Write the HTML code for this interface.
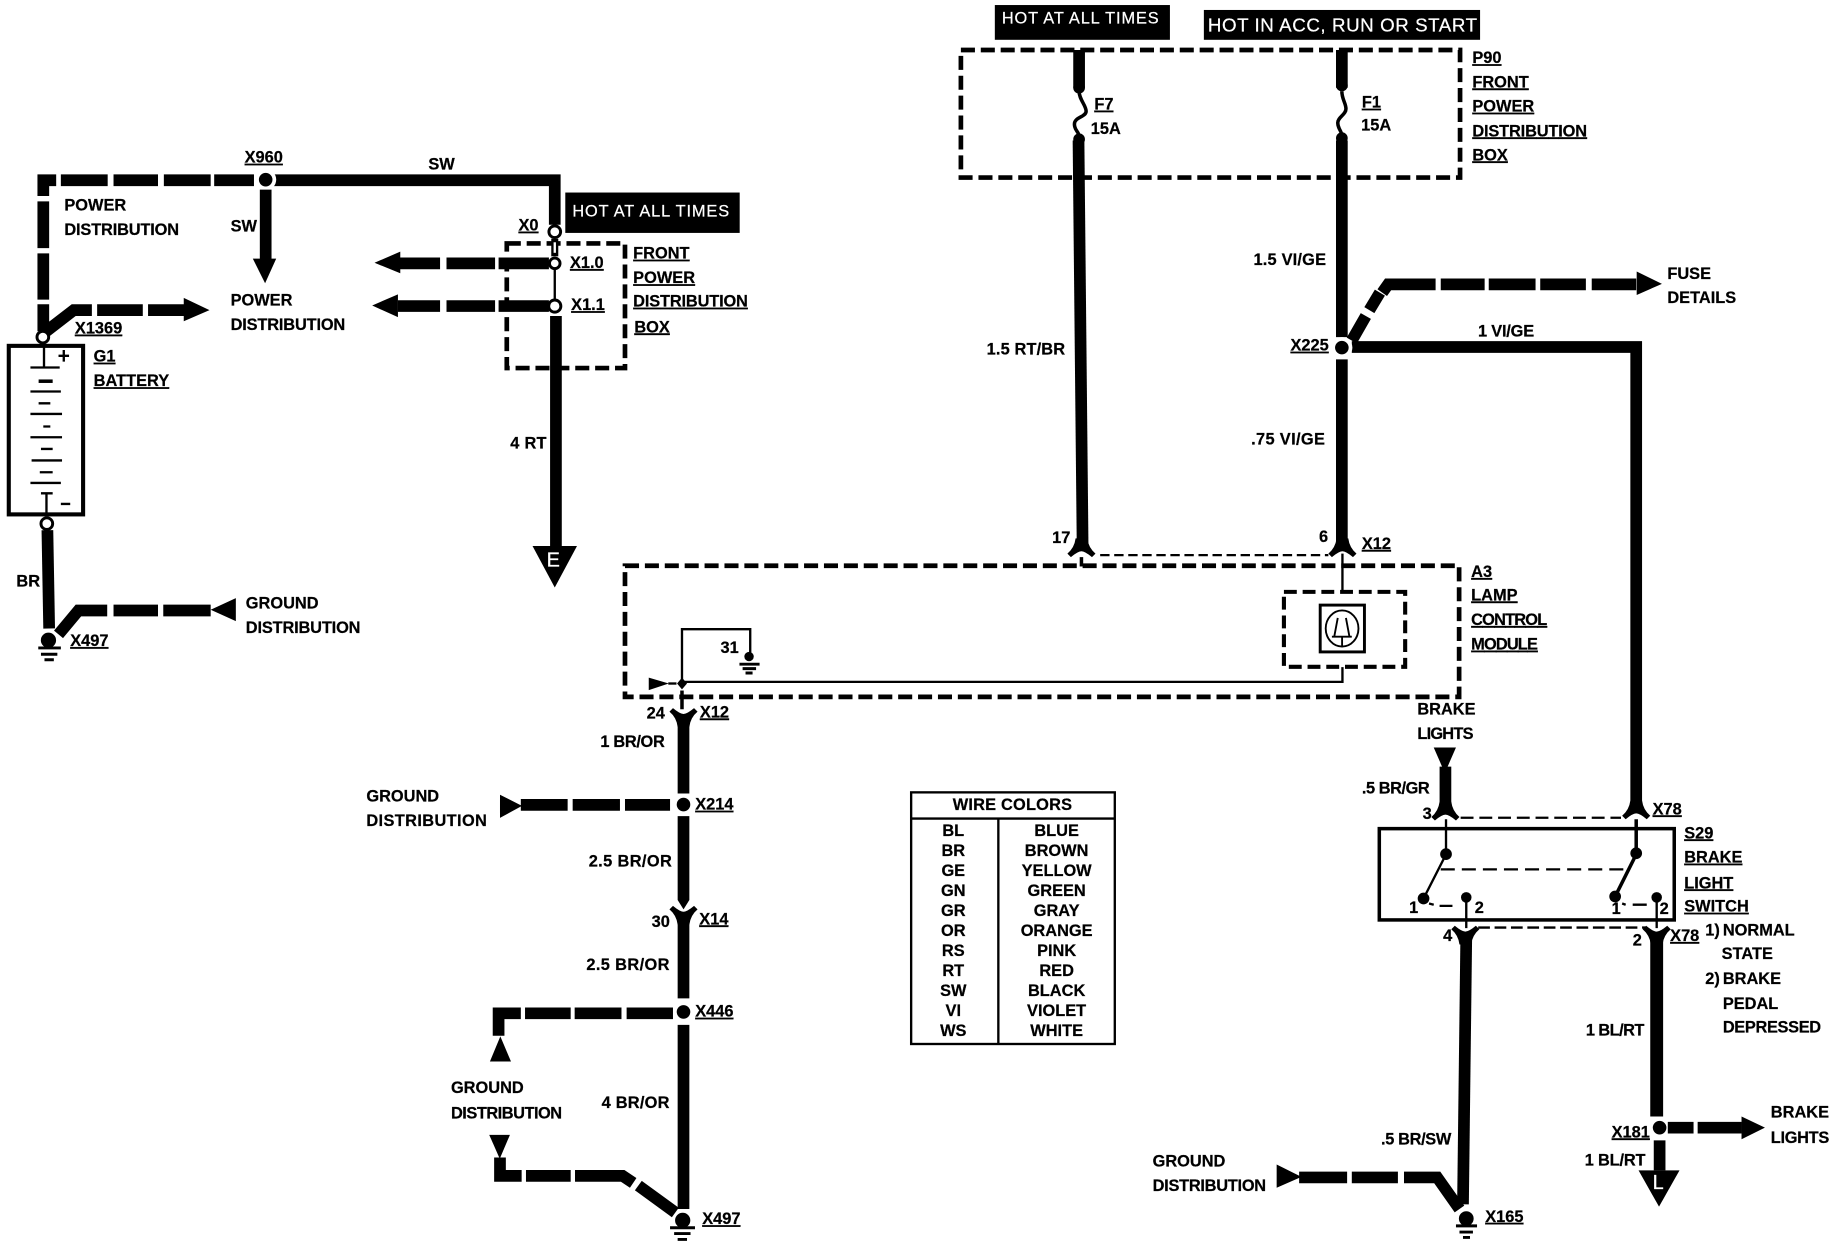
<!DOCTYPE html>
<html lang="en">
<head>
<meta charset="utf-8">
<title>Brake light wiring diagram</title>
<style>
html,body{margin:0;padding:0;background:#fff;width:1834px;height:1248px;overflow:hidden}
svg{display:block}
text{font-family:"Liberation Sans",sans-serif;font-weight:700;font-size:14px;fill:#000;stroke:#000;stroke-width:.2px;transform:translateY(-1px)}
.u{text-decoration:underline}
.w{fill:#fff;stroke:#fff;font-weight:400}
.c{text-anchor:middle}
.wire{fill:none;stroke:#000;stroke-width:10}
.box{fill:none;stroke:#000;stroke-width:4;stroke-dasharray:12 5}
.thin{fill:none;stroke:#000;stroke-width:2}
.med{fill:none;stroke:#000;stroke-width:3}
.open{fill:#fff;stroke:#000;stroke-width:2.5}
</style>
</head>
<body>
<svg xmlns="http://www.w3.org/2000/svg" width="1834" height="1248" viewBox="0 0 1567 1066.3">
<defs>
<path id="fu" d="M-5,-10 L5,-10 Q6,-2 12,3 L9,6 Q3,1 0,1 Q-3,1 -9,6 L-12,3 Q-6,-2 -5,-10Z"/>
<path id="fd" d="M-5,10 L5,10 Q6,2 12,-3 L9,-6 Q3,-1 0,-1 Q-3,-1 -9,-6 L-12,-3 Q-6,2 -5,10Z"/>
<g id="j"><circle r="9" fill="#fff"/><circle r="5.8" fill="#000"/></g>
</defs>
<rect width="1567" height="1066.3" fill="#fff"/>

<!-- LEFT: power distribution -->
<path class="wire" d="M227,154 L474,154 L474,192"/>
<path class="wire" d="M52,154 H92 M97,154 H135 M140,154 H180 M183,154 H217"/>
<path class="wire" d="M48,154 H37 V167.5 M37,172 V212 M37,216.5 V256"/>
<path class="wire" d="M37,260 V283 M37,285 L63,265 H78.5 M83,265 H122 M126.5,265 H159"/>
<polygon points="157,254.5 179,265 157,274.5"/>
<use href="#j" x="227" y="153.5"/>
<path class="wire" d="M227,162 V222"/>
<polygon points="216,221 236,221 226.5,242"/>

<!-- X0 / front box -->
<rect class="box" x="433" y="208" width="101" height="106.5"/>
<path d="M474,204 V219" stroke="#000" stroke-width="6"/>
<path d="M474,207 V216" stroke="#fff" stroke-width="2"/>
<circle class="open" cx="474" cy="198" r="5"/>
<path class="thin" d="M474,229 V256"/>
<path class="wire" d="M469,225 H426 M423,225 H381.5 M376,225 H340"/>
<polygon points="342,215 320,224.5 342,233.5"/>
<path class="wire" d="M469,261.5 H426 M423,261.5 H381.5 M376,261.5 H340"/>
<polygon points="340,251.5 318,261 340,271"/>
<circle class="open" cx="474" cy="225" r="4.5"/>
<circle class="open" cx="474" cy="261.5" r="5.2"/>
<path class="wire" d="M475,270 V468"/>
<polygon points="455,466.5 493,466.5 474,502"/>
<text class="w" x="467" y="485" style="font-size:17px">E</text>

<!-- Battery -->
<rect x="7.5" y="295.5" width="63.5" height="144" fill="none" stroke="#000" stroke-width="3.5"/>
<circle class="open" cx="36.6" cy="288" r="5"/>
<path class="thin" d="M37.6,293 V314 M26,314 H51 M50,304 H59 M54.5,299 V309"/>
<path stroke="#000" fill="none" d="M33,325.7 H45" stroke-width="3"/>
<path stroke="#000" fill="none" stroke-width="2" d="M26,334.5 H52 M33,344.6 H43 M26,353.7 H53 M37,364.4 H43 M26,373.6 H53 M35,383.6 H45 M27,393.4 H53 M34,403.5 H45 M26,412.6 H52 M35,421.5 H45 M39.7,421.5 V439 M52,430.6 H60"/>
<circle class="open" cx="40" cy="447.4" r="5"/>
<path class="wire" d="M40.5,453 L42,537"/>
<path class="wire" d="M50,542 L67,521.6 H91.6 M97,521.6 H135 M139.5,521.6 H180"/>
<polygon points="180,521 201.5,511 201.5,530.7"/>
<circle cx="41.4" cy="547" r="6.5"/>
<path stroke="#000" stroke-width="2.5" d="M32.7,553.6 H52 M35,559 H49 M38,563.7 H46"/>

<!-- Labels left -->
<text x="55" y="181">POWER</text>
<text x="55" y="202" textLength="98">DISTRIBUTION</text>
<text class="u" x="209" y="140">X960</text>
<text x="366" y="146">SW</text>
<text x="197" y="199">SW</text>
<text x="197" y="262">POWER</text>
<text x="197" y="283" textLength="98">DISTRIBUTION</text>
<text class="u" x="64" y="286">X1369</text>
<text class="u" x="80" y="310">G1</text>
<text class="u" x="80" y="331">BATTERY</text>
<text x="14" y="502">BR</text>
<text class="u" x="60" y="553">X497</text>
<text x="210" y="521">GROUND</text>
<text x="210" y="542" textLength="98">DISTRIBUTION</text>
<rect x="483" y="164.5" width="149" height="34.5"/>
<text class="w" x="489" y="186" textLength="134">HOT AT ALL TIMES</text>
<text class="u" x="443" y="198">X0</text>
<text class="u" x="487" y="230">X1.0</text>
<text class="u" x="488" y="266">X1.1</text>
<text class="u" x="541" y="222">FRONT</text>
<text class="u" x="541" y="243">POWER</text>
<text class="u" x="541" y="263" textLength="98">DISTRIBUTION</text>
<text class="u" x="542" y="285">BOX</text>
<text x="436" y="384" textLength="31">4 RT</text>

<!-- TOP RIGHT -->
<rect x="850" y="4.3" width="149.6" height="29.7"/>
<text class="w" x="856" y="21" textLength="134">HOT AT ALL TIMES</text>
<rect x="1028.6" y="8.5" width="236" height="25.5"/>
<text class="w" x="1032" y="28" textLength="230" style="font-size:16px">HOT IN ACC, RUN OR START</text>
<rect class="box" x="821" y="42.7" width="426.5" height="109"/>
<path class="wire" d="M922,42.7 V75"/>
<circle cx="922" cy="75" r="5"/>
<path class="med" d="M922,78 C922,85 928,90 928,95 C928,100 918,100 918,106 C918,112 922,112 922,117"/>
<circle cx="922" cy="119" r="5"/>
<path class="wire" d="M921.5,120 L925,467"/>
<path class="wire" d="M1146.5,42.7 V75"/>
<circle cx="1146.5" cy="73" r="5"/>
<path class="med" d="M1146.5,78 C1146.5,85 1150,88 1150,93 C1150,98 1143,100 1143,105 C1143,110 1146.5,112 1146.5,116"/>
<circle cx="1146.5" cy="118" r="5"/>
<path class="wire" d="M1146.5,120 V288 M1146.5,307 V467"/>
<path class="wire" d="M1155,291 L1167,270 M1170,265 L1179,250"/>
<path class="wire" d="M1181,250 L1186,243 H1226.6 M1231,243 H1268.5 M1272,243 H1312 M1316,243 H1355 M1360,243 H1398"/>
<polygon points="1398.4,232 1420,242.5 1398.4,252"/>
<path class="wire" d="M1155,296.5 H1398 V684"/>
<use href="#j" x="1146.5" y="297"/>

<text class="u" x="935" y="94.6">F7</text>
<text x="932" y="115.4">15A</text>
<text class="u" x="1163.6" y="93">F1</text>
<text x="1163" y="112.3">15A</text>
<text class="u" x="1258" y="55">P90</text>
<text class="u" x="1258" y="75.7">FRONT</text>
<text class="u" x="1258" y="96.4">POWER</text>
<text class="u" x="1258" y="117.5" textLength="98">DISTRIBUTION</text>
<text class="u" x="1258" y="138">BOX</text>
<text x="1071" y="227.4" textLength="62">1.5 VI/GE</text>
<text x="843" y="303.7" textLength="67">1.5 RT/BR</text>
<text class="u" x="1102.6" y="300.6">X225</text>
<text x="1069" y="380.6" textLength="63">.75 VI/GE</text>
<text x="1262.8" y="288.4" textLength="48">1 VI/GE</text>
<text x="899" y="465">17</text>
<text x="1127" y="464">6</text>
<text class="u" x="1163.6" y="470">X12</text>
<text x="1424.6" y="239.3">FUSE</text>
<text x="1424.6" y="259.8">DETAILS</text>

<!-- A3 module -->
<rect class="box" x="534" y="483.4" width="712.7" height="112"/>
<use href="#fu" x="924" y="470"/>
<use href="#fu" x="1147" y="470"/>
<path class="med" d="M924,476 V484"/>
<path class="thin" d="M940,474.3 H1135" stroke-dasharray="8 4"/>
<path class="thin" d="M1147,473 V506"/>
<rect x="1097" y="505.7" width="103.6" height="64" fill="none" stroke="#000" stroke-width="3.5" stroke-dasharray="11 5"/>
<rect x="1128" y="517" width="37.8" height="40" fill="none" stroke="#000" stroke-width="2.5"/>
<ellipse cx="1146.7" cy="537" rx="14" ry="15.4" fill="none" stroke="#000" stroke-width="1.6"/>
<path fill="none" stroke="#000" stroke-width="1.6" d="M1138,544 H1155 M1146.7,544 V552 M1140,544 L1143,528 M1153,544 L1150,528"/>
<path class="thin" d="M1147,570 V582.6 H582.7"/>
<polygon points="554.3,579 571.4,584 554.3,589.7"/>
<path class="thin" d="M571,584 H578"/>
<polygon points="582.7,579 587,584 582.7,589 578.5,584"/>
<path class="thin" d="M582.7,584 V537.6 H641 V558"/>
<circle cx="640" cy="561" r="4"/>
<path stroke="#000" stroke-width="2.5" d="M631.8,567.5 H649 M634.5,571.3 H646 M637,575 H643"/>
<text x="615.6" y="559">31</text>
<path class="med" d="M582.7,590 V606"/>
<text class="u" x="1257" y="494">A3</text>
<text class="u" x="1257" y="514">LAMP</text>
<text class="u" x="1257" y="535" textLength="65">CONTROL</text>
<text class="u" x="1257" y="556" textLength="57">MODULE</text>

<!-- Bottom left wires -->
<use href="#fd" x="584" y="611"/>
<path class="wire" d="M584,618 V678 M584,697.3 V769"/>
<polygon points="579,769 589,769 584,777"/>
<use href="#fd" x="584" y="780"/>
<path class="wire" d="M584,785 V853 M584,875.7 V1033"/>
<use href="#j" x="584" y="687.4"/>
<use href="#j" x="584" y="864.6"/>
<path class="wire" d="M572.5,687.7 H534 M529.7,687.7 H489.3 M485,687.7 H445"/>
<polygon points="427.2,679 446,688.5 427.2,698.8"/>
<path class="wire" d="M575,865.8 H535.4 M531,865.8 H491 M487.6,865.8 H448.6 M445,865.8 H426 V885"/>
<polygon points="427.5,885.5 436.6,907 418.6,907"/>
<polygon points="418,969.6 435.7,969.6 427,990"/>
<path class="wire" d="M427.2,989 V1004.7 H445.7 M449.4,1004.7 H487.6 M491.3,1004.7 H532 L541,1010.7 M545.4,1013 L577,1036"/>
<circle cx="583.3" cy="1042.7" r="6.5"/>
<path stroke="#000" stroke-width="2.5" d="M572.5,1049 H593.8 M576,1054 H590 M579,1059 H587"/>

<text x="313" y="685.9">GROUND</text>
<text x="313" y="706.9" textLength="103">DISTRIBUTION</text>
<text x="552.5" y="614.8">24</text>
<text class="u" x="598" y="614">X12</text>
<text x="513" y="639.4" textLength="55">1 BR/OR</text>
<text class="u" x="594" y="692.8">X214</text>
<text x="503" y="741.4" textLength="71">2.5 BR/OR</text>
<text x="556.8" y="793">30</text>
<text class="u" x="597.5" y="790.8">X14</text>
<text x="501" y="829.8" textLength="71">2.5 BR/OR</text>
<text class="u" x="594" y="869.7">X446</text>
<text x="385.3" y="934.8">GROUND</text>
<text x="385.3" y="956.7" textLength="95">DISTRIBUTION</text>
<text x="514" y="947.7" textLength="58">4 BR/OR</text>
<text class="u" x="600" y="1047">X497</text>

<!-- Wire colors table -->
<rect x="778.5" y="677" width="174" height="215" fill="none" stroke="#000" stroke-width="2"/>
<path class="thin" d="M778.5,699.4 H952.5 M853,699.4 V892"/>
<text class="c" x="865" y="692.9" textLength="102">WIRE COLORS</text>
<g text-anchor="middle">
<text x="814.5" y="715.1">BL</text><text x="902.8" y="715.1">BLUE</text>
<text x="814.5" y="732.2">BR</text><text x="902.8" y="732.2">BROWN</text>
<text x="814.5" y="749.3">GE</text><text x="902.8" y="749.3">YELLOW</text>
<text x="814.5" y="766.4">GN</text><text x="902.8" y="766.4">GREEN</text>
<text x="814.5" y="783.5">GR</text><text x="902.8" y="783.5">GRAY</text>
<text x="814.5" y="800.6">OR</text><text x="902.8" y="800.6">ORANGE</text>
<text x="814.5" y="817.7">RS</text><text x="902.8" y="817.7">PINK</text>
<text x="814.5" y="834.8">RT</text><text x="902.8" y="834.8">RED</text>
<text x="814.5" y="851.9">SW</text><text x="902.8" y="851.9">BLACK</text>
<text x="814.5" y="869">VI</text><text x="902.8" y="869">VIOLET</text>
<text x="814.5" y="886.1">WS</text><text x="902.8" y="886.1">WHITE</text>
</g>

<!-- Brake switch -->
<polygon points="1225,638.7 1244,638.7 1236,657 1233,657"/>
<path class="wire" d="M1235,655 V691"/>
<use href="#fu" x="1235" y="695"/>
<use href="#fu" x="1398" y="694"/>
<path class="thin" d="M1248,698.7 H1385" stroke-dasharray="11 5"/>
<rect x="1178.5" y="708" width="252" height="78" fill="none" stroke="#000" stroke-width="3"/>
<path class="thin" d="M1235.5,700 V730 L1216.3,767.7"/>
<path class="med" d="M1398,700 V730 L1380,766"/>
<circle cx="1235.5" cy="729.8" r="5"/>
<circle cx="1398" cy="729" r="5"/>
<circle cx="1216.3" cy="767.7" r="5"/>
<circle cx="1380" cy="766" r="5"/>
<path class="thin" d="M1231,742.8 H1393" stroke-dasharray="12 6"/>
<circle cx="1252.8" cy="766.7" r="4.5"/>
<circle cx="1415.5" cy="766.7" r="4.5"/>
<path class="thin" d="M1252.8,767 V793 M1415.5,767 V793"/>
<path class="thin" d="M1221,772 L1225,773 M1230,774 H1241 M1386,772 L1389,773 M1395,773 H1407"/>
<text x="1204" y="781">1</text>
<text x="1260" y="781">2</text>
<text x="1377" y="782">1</text>
<text x="1418" y="782">2</text>
<use href="#fd" x="1252" y="797"/>
<use href="#fd" x="1415.5" y="797"/>
<path class="thin" d="M1263,792.5 H1406" stroke-dasharray="10 4"/>
<path class="wire" d="M1252.8,800 L1250,1029"/>
<path d="M1415.5,800 V954" fill="none" stroke="#000" stroke-width="11"/>
<use href="#j" x="1418" y="963.5"/>
<path class="wire" d="M1425,963.5 H1447 M1450.5,963.5 H1488"/>
<polygon points="1488,954 1508,963.5 1488,973.4"/>
<path class="wire" d="M1418,974.4 V1000"/>
<polygon points="1400,1000 1435,1000 1417.5,1031"/>
<text class="w" x="1412" y="1017" style="font-size:17px">L</text>
<polygon points="1090.8,995 1112,1005.5 1090.8,1014.8"/>
<path class="wire" d="M1110,1006 H1151 M1155,1006 H1194.4 M1199.6,1006 H1228 L1247,1033"/>
<circle cx="1252.8" cy="1041.2" r="6.3"/>
<path stroke="#000" stroke-width="2.5" d="M1244,1047.4 H1262 M1247,1052.7 H1258.5 M1250,1057.3 H1256"/>

<text x="1211" y="611.6">BRAKE</text>
<text x="1211" y="632.5" textLength="48">LIGHTS</text>
<text x="1163.6" y="679" textLength="58">.5 BR/GR</text>
<text x="1215.5" y="700.8">3</text>
<text class="u" x="1412" y="696.8">X78</text>
<text class="u" x="1439" y="717.3">S29</text>
<text class="u" x="1439" y="738">BRAKE</text>
<text class="u" x="1439" y="760">LIGHT</text>
<text class="u" x="1439" y="780">SWITCH</text>
<text x="1457" y="800.3">1)</text>
<text x="1472" y="800.3">NORMAL</text>
<text x="1471" y="820.5">STATE</text>
<text x="1457" y="841.6">2)</text>
<text x="1472" y="841.6">BRAKE</text>
<text x="1472" y="863">PEDAL</text>
<text x="1472" y="883.3" textLength="84">DEPRESSED</text>
<text x="1233" y="805">4</text>
<text x="1395" y="808.7">2</text>
<text class="u" x="1427" y="805">X78</text>
<text x="1355" y="885.8" textLength="50">1 BL/RT</text>
<text x="1180" y="979" textLength="60">.5 BR/SW</text>
<text class="u" x="1377" y="972.8">X181</text>
<text x="1354" y="997" textLength="52">1 BL/RT</text>
<text x="1513" y="955.7">BRAKE</text>
<text x="1513" y="977.5" textLength="50">LIGHTS</text>
<text class="u" x="1269" y="1044.9">X165</text>
<text x="984.8" y="997.7">GROUND</text>
<text x="984.8" y="1018.5" textLength="97">DISTRIBUTION</text>
</svg>
</body>
</html>
